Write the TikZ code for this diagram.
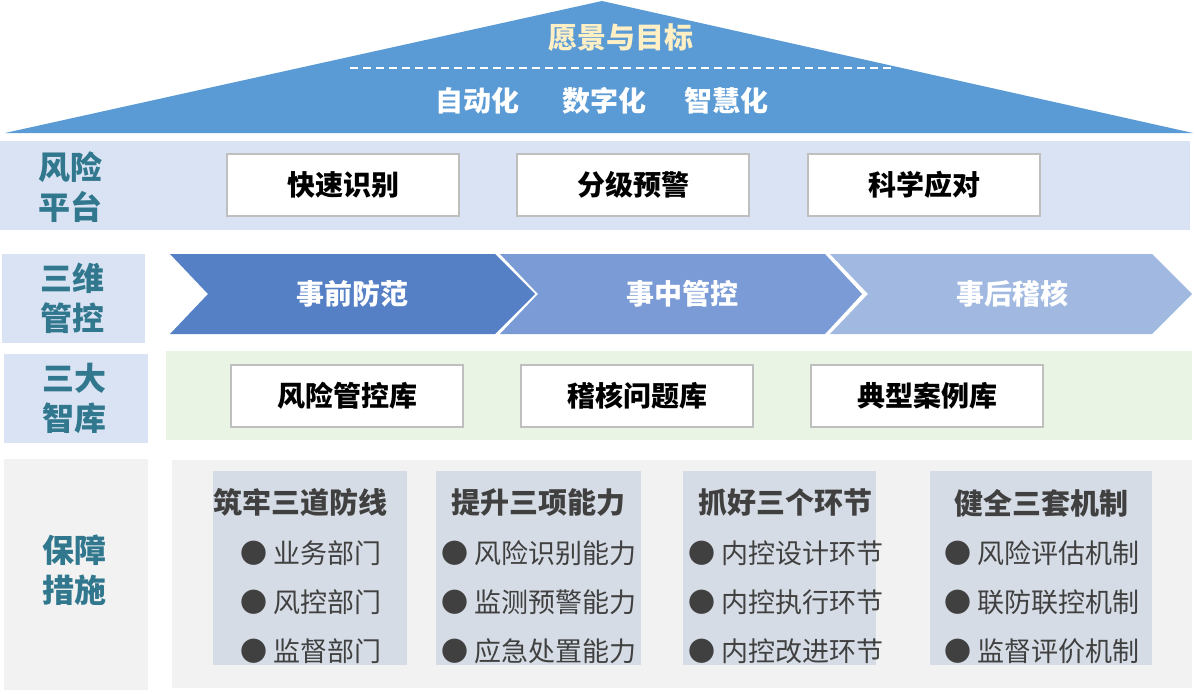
\documentclass[tikz,border=0pt]{standalone}
\usepackage{fontspec}
\setmainfont{Noto Sans CJK SC}
\definecolor{roofblue}{HTML}{5B9BD5}
\definecolor{goldtext}{HTML}{FFEFC4}
\definecolor{paleblue}{HTML}{DAE3F3}
\definecolor{chevA}{HTML}{5580C6}
\definecolor{chevB}{HTML}{7B9BD6}
\definecolor{chevC}{HTML}{A1B9E1}
\definecolor{palegreen}{HTML}{EAF4E4}
\definecolor{palegray}{HTML}{F2F2F2}
\definecolor{colgray}{HTML}{D6DCE5}
\definecolor{tealtext}{HTML}{31788F}
\definecolor{darktext}{HTML}{404040}
\begin{document}
\begin{tikzpicture}[x=1pt,y=-1pt,
	rowlabel/.style={align=center, text=tealtext, font=\bfseries\fontsize{32}{40}\selectfont, inner sep=0pt},
	whitebox/.style={shape=rectangle, draw=black!25, line width=2pt, fill=white, minimum width=232pt, minimum height=62pt, inner sep=0pt, font=\bfseries\fontsize{28}{30}\selectfont},
	chevtext/.style={text=white, font=\bfseries\fontsize{28}{30}\selectfont, inner sep=0pt},
	colbox/.style={shape=rectangle, fill=colgray, inner sep=0pt, anchor=north west},
	colhead/.style={text=darktext, font=\bfseries\fontsize{29}{30}\selectfont, inner sep=0pt},
	colitem/.style={text=darktext, font=\fontsize{27}{30}\selectfont, inner sep=0pt}]
		\useasboundingbox (0,0) rectangle (1196,693);
		% roof
		\fill[roofblue] (5,133) -- (602,1) -- (1193,133) -- cycle;
		\node (vision) at (621,38) [text=goldtext, font=\bfseries\fontsize{29}{30}\selectfont, inner sep=0pt] {愿景与目标};
		\coordinate (dashL) at (350,68);
		\coordinate (dashR) at (893,68);
		\draw[white, line width=1.5pt, dash pattern=on 8pt off 5pt] (dashL) -- (dashR);
		\node (auto) at (477,101) [chevtext] {自动化};
		\node (digit) at (604,101) [chevtext] {数字化};
		\node (smart) at (726,101) [chevtext] {智慧化};
		% risk platform
		\fill[paleblue] (0,141) rectangle (1190,230);
		\node (lab1) at (70,187) [rowlabel] {风险\\平台};
		\node (fast) at (343,185) [whitebox] {快速识别};
		\node (warn) at (633,185) [whitebox] {分级预警};
		\node (resp) at (924,185) [whitebox] {科学应对};
		% three dimensions
		\fill[paleblue] (2,254) rectangle (145,343);
		\node (lab2) at (72,298) [rowlabel] {三维\\管控};
		\fill[chevA] (170,254) -- (495,254) -- (535,294) -- (495,334) -- (170,334) -- (208,294) -- cycle;
		\fill[chevB] (500,254) -- (825,254) -- (862,294) -- (825,334) -- (500,334) -- (538,294) -- cycle;
		\fill[chevC] (830,254) -- (1152,254) -- (1192,294) -- (1152,334) -- (830,334) -- (868,294) -- cycle;
		\node (before) at (352,294) [chevtext] {事前防范};
		\node (during) at (682,294) [chevtext] {事中管控};
		\node (after) at (1012,294) [chevtext] {事后稽核};
		% three libraries
		\fill[paleblue] (4,354) rectangle (148,443);
		\node (lab3) at (74,398) [rowlabel] {三大\\智库};
		\fill[palegreen] (166,351) rectangle (1192,440);
		\node (riskdb) at (347,396) [whitebox] {风险管控库};
		\node (auditdb) at (637,396) [whitebox] {稽核问题库};
		\node (casedb) at (927,396) [whitebox] {典型案例库};
		% safeguards
		\fill[palegray] (4,459) rectangle (148,690);
		\node (lab4) at (74,570) [rowlabel] {保障\\措施};
		\fill[palegray] (172,460) rectangle (1192,688);
		\node (col1) at (213,471) [colbox, minimum width=194pt, minimum height=194pt] {};
		\node (col2) at (436,471) [colbox, minimum width=205pt, minimum height=194pt] {};
		\node (col3) at (683,471) [colbox, minimum width=193pt, minimum height=194pt] {};
		\node (col4) at (930,471) [colbox, minimum width=222pt, minimum height=194pt] {};
		\node (head1) at (300,503) [colhead] {筑牢三道防线};
		\node (head2) at (538,503) [colhead] {提升三项能力};
		\node (head3) at (785,503) [colhead] {抓好三个环节};
		\node (head4) at (1041,503) [colhead] {健全三套机制};
		\node (itemA1) at (311,553) [colitem] {● 业务部门};
		\node (itemA2) at (311,602) [colitem] {● 风控部门};
		\node (itemA3) at (311,651) [colitem] {● 监督部门};
		\node (itemB1) at (539,553) [colitem] {● 风险识别能力};
		\node (itemB2) at (539,602) [colitem] {● 监测预警能力};
		\node (itemB3) at (539,651) [colitem] {● 应急处置能力};
		\node (itemC1) at (786,553) [colitem] {● 内控设计环节};
		\node (itemC2) at (786,602) [colitem] {● 内控执行环节};
		\node (itemC3) at (786,651) [colitem] {● 内控改进环节};
		\node (itemD1) at (1042,553) [colitem] {● 风险评估机制};
		\node (itemD2) at (1042,602) [colitem] {● 联防联控机制};
		\node (itemD3) at (1042,651) [colitem] {● 监督评价机制};
		\end{tikzpicture}
\end{document}
